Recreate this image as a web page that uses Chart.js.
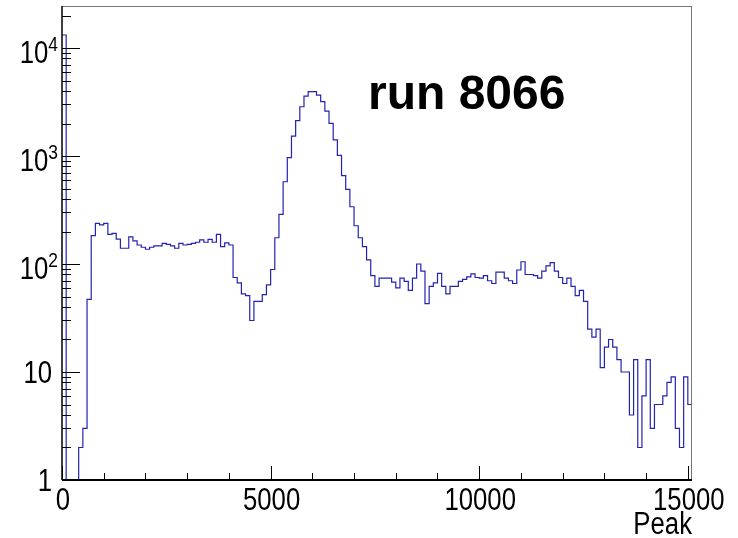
<!DOCTYPE html>
<html>
<head>
<meta charset="utf-8">
<script src="https://cdn.jsdelivr.net/npm/chart.js@4.4.0/dist/chart.umd.min.js"></script>
<style>
  html, body { margin: 0; padding: 0; background: #ffffff; }
  #wrap { position: relative; width: 738px; height: 538px; }
</style>
</head>
<body>
<div id="wrap"><canvas id="peak"></canvas></div>
<script>
// Peak spectrum for run 8066, 100-wide bins starting at 0
const binStart = 0;
const binWidth = 100;
const counts = [
  13200, 0, 0, 0, 2, 3, 47, 183, 238, 230,
  238, 188, 192, 170, 140, 140, 178, 164, 150, 143,
  137, 143, 147, 147, 155, 152, 147, 140, 155, 150,
  152, 155, 159, 167, 159, 169, 159, 188, 145, 157,
  150, 75, 67, 53, 51, 30, 45, 45, 52, 64,
  89, 175, 288, 578, 965, 1530, 2125, 2860, 3590, 3940,
  3940, 3670, 3190, 2610, 2010, 1410, 1015, 657, 491, 339,
  226, 175, 145, 109, 78, 62, 74, 74, 74, 68,
  60, 74, 69, 57, 74, 100, 86, 43, 62, 67,
  82, 62, 53, 62, 62, 69, 72, 76, 81, 75,
  74, 78, 70, 66, 84, 84, 74, 70, 66, 88,
  105, 80, 80, 78, 74, 86, 96, 103, 86, 75,
  66, 74, 62, 51, 57, 45, 25, 21, 25, 11,
  17, 20, 17, 13, 10, 10, 4, 13, 2, 6,
  13, 3, 5, 5, 6, 8, 9, 3, 2, 9,
  5
];

const xLabels = [0, 5000, 10000, 15000];
const xMinorStep = 1000;
const yDecades = [1, 10, 100, 1000, 10000];
const yMin = 1;
const yMax = 24500;
const runLabel = 'run 8066';
const xTitle = 'Peak';

const labelFont = "'Liberation Sans', Arial, sans-serif";
const squeeze = 0.83; // axis text is set condensed
const lineColor = 'rgb(35, 35, 175)';

// step outline: one point per bin's left edge, plus the closing right edge
const xMax = binStart + counts.length * binWidth;
const points = counts.map((c, i) => ({ x: binStart + i * binWidth, y: Math.max(c, yMin) }));
points.push({ x: xMax, y: Math.max(counts[counts.length - 1], yMin) });

// condensed text, anchored like fillText with the current textAlign
function narrowText(ctx, text, x, y) {
  ctx.save();
  ctx.translate(x, y);
  ctx.scale(squeeze, 1);
  ctx.fillText(text, 0, 0);
  ctx.restore();
}

// frame, inward ticks and axis labels in the usual ROOT look
const rootFrame = {
  id: 'rootFrame',
  afterDraw(chart) {
    const { ctx, chartArea: a } = chart;
    const xs = chart.scales.x;
    const ys = chart.scales.y;
    ctx.save();

    ctx.lineWidth = 1;
    ctx.strokeStyle = '#777777';
    ctx.beginPath();
    ctx.moveTo(a.left, a.top + 0.5);
    ctx.lineTo(a.right, a.top + 0.5);
    ctx.moveTo(a.right - 0.5, a.top);
    ctx.lineTo(a.right - 0.5, a.bottom);
    ctx.stroke();

    ctx.strokeStyle = '#000000';
    ctx.lineWidth = 1.5;
    ctx.beginPath();
    ctx.moveTo(a.left, a.top);
    ctx.lineTo(a.left, a.bottom);
    ctx.stroke();
    ctx.lineWidth = 2;
    ctx.beginPath();
    ctx.moveTo(a.left, a.bottom);
    ctx.lineTo(a.right, a.bottom);
    ctx.stroke();

    // y ticks: decades long, 2..9 short
    ctx.lineWidth = 1;
    ctx.beginPath();
    for (const d of yDecades) {
      for (let m = 1; m <= 9; m++) {
        const v = d * m;
        if (v < yMin || v > yMax) continue;
        const py = Math.round(ys.getPixelForValue(v)) + 0.5;
        const len = m === 1 ? 18 : 9;
        ctx.moveTo(a.left, py);
        ctx.lineTo(a.left + len, py);
      }
    }
    ctx.stroke();

    // x ticks every 1000, long at the labelled ones
    ctx.beginPath();
    for (let v = binStart; v <= xMax; v += xMinorStep) {
      const px = Math.round(xs.getPixelForValue(v)) + 0.5;
      const len = xLabels.includes(v) ? 14 : 7;
      ctx.moveTo(px, a.bottom);
      ctx.lineTo(px, a.bottom - len);
    }
    ctx.stroke();

    ctx.fillStyle = '#000000';
    ctx.textBaseline = 'alphabetic';

    // x tick labels
    ctx.font = '31px ' + labelFont;
    ctx.textAlign = 'center';
    for (const v of xLabels) {
      narrowText(ctx, String(v), xs.getPixelForValue(v) + 1, a.bottom + 30);
    }

    // y tick labels as 10 with a raised exponent
    ctx.textAlign = 'right';
    for (const d of yDecades) {
      const py = ys.getPixelForValue(d);
      const exp = Math.round(Math.log10(d));
      if (exp <= 1) {
        ctx.font = '31px ' + labelFont;
        narrowText(ctx, String(d), 52, py + 11);
      } else {
        ctx.font = '21px ' + labelFont;
        narrowText(ctx, String(exp), 58, py + 3);
        const ew = ctx.measureText(String(exp)).width * squeeze;
        ctx.font = '31px ' + labelFont;
        narrowText(ctx, '10', 58 - ew, py + 15);
      }
    }

    // axis title
    ctx.font = '31px ' + labelFont;
    narrowText(ctx, xTitle, a.right, 534);

    // run tag
    ctx.font = "bold 48px 'Liberation Sans', Arial, sans-serif";
    ctx.textAlign = 'left';
    ctx.fillText(runLabel, 368, 109);

    ctx.restore();
  }
};

new Chart(document.getElementById('peak').getContext('2d'), {
  type: 'line',
  data: {
    datasets: [
      {
        data: points,
        borderColor: lineColor,
        borderWidth: 1.2,
        stepped: true,
        pointRadius: 0,
        fill: false,
        tension: 0
      }
    ]
  },
  options: {
    responsive: true,
    maintainAspectRatio: false,
    animation: false,
    layout: {
      padding: { left: 62, right: 46, top: 6, bottom: 58 }
    },
    plugins: {
      legend: { display: false },
      tooltip: { enabled: false }
    },
    scales: {
      x: {
        type: 'linear',
        min: binStart,
        max: xMax,
        display: false
      },
      y: {
        type: 'logarithmic',
        min: yMin,
        max: yMax,
        display: false
      }
    }
  },
  plugins: [rootFrame]
});
</script>
</body>
</html>
